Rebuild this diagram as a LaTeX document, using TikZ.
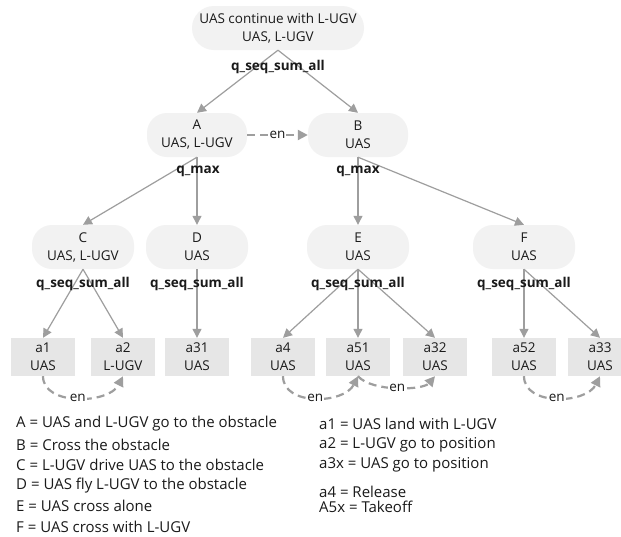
\documentclass[tikz,border=0pt]{standalone}
\usepackage{fontspec}
\setmainfont{Open Sans}
\usetikzlibrary{arrows.meta}
\definecolor{nodegray}{HTML}{F2F2F2}
\definecolor{boxgray}{HTML}{E6E6E6}
\definecolor{linegray}{HTML}{9E9E9E}
\definecolor{txt}{HTML}{1A1A1A}
\newcommand{\fsnode}{\fontsize{13.5}{18}\selectfont}
\newcommand{\fsleg}{\fontsize{15}{17}\selectfont}
\begin{document}
\begin{tikzpicture}[x=1pt,y=-1pt,
  pill/.style={fill=nodegray, rounded corners=20pt, minimum width=100pt, minimum height=44pt, align=center, font=\fsnode, text=txt, inner sep=2pt},
  act/.style={fill=boxgray, minimum width=64pt, minimum height=38pt, align=center, font=\fsnode, text=txt, inner sep=2pt},
  edge/.style={draw=linegray, line width=1.2pt, -{Triangle[length=9pt,width=9pt]}},
  dashedge/.style={draw=linegray, line width=2.2pt, dash pattern=on 8pt off 5pt, -{Triangle[length=10pt,width=10pt]}},
  lbl/.style={font=\bfseries\fsnode, text=txt, inner sep=1pt},
  enlbl/.style={fill=white, font=\fsnode, text=txt, inner sep=1pt},
  leg/.style={anchor=west, font=\fsleg, text=txt, inner sep=0pt, align=left}
]
\useasboundingbox (0,0) rectangle (621,536);
\clip (0,0) rectangle (621,536);
\fill[white] (0,0) rectangle (621,536);

% nodes
\node[pill, minimum width=172pt, rounded corners=22pt] (root) at (278,28) {UAS continue with L-UGV\\UAS, L-UGV};
\node[pill] (A) at (197,135) {A\\UAS, L-UGV};
\node[pill] (B) at (358,135) {B\\UAS};
\node[pill, minimum width=102pt] (C) at (83,247) {C\\UAS, L-UGV};
\node[pill, minimum width=102pt] (D) at (197,247) {D\\UAS};
\node[pill, minimum width=102pt] (E) at (358,247) {E\\UAS};
\node[pill, minimum width=102pt] (F) at (524,247) {F\\UAS};

\node[act] (a1) at (43,357) {a1\\UAS};
\node[act] (a2) at (123,357) {a2\\L-UGV};
\node[act] (a31) at (197,357) {a31\\UAS};
\node[act] (a4) at (283,357) {a4\\UAS};
\node[act] (a51) at (358,357) {a51\\UAS};
\node[act] (a32) at (435,357) {a32\\UAS};
\node[act] (a52) at (524,357) {a52\\UAS};
\node[act] (a33) at (600,357) {a33\\UAS};

% edges
\draw[edge] (root.south) -- (A.north);
\draw[edge] (root.south) -- (B.north);
\draw[edge] (A.south) -- (C.north);
\draw[edge] (A.south) -- (D.north);
\draw[edge] (B.south) -- (E.north);
\draw[edge] (B.south) -- (F.north);
\draw[edge] (C.south) -- (a1.north);
\draw[edge] (C.south) -- (a2.north);
\draw[edge] (D.south) -- (a31.north);
\draw[edge] (E.south) -- (a4.north);
\draw[edge] (E.south) -- (a51.north);
\draw[edge] (E.south) -- (a32.north);
\draw[edge] (F.south) -- (a52.north);
\draw[edge] (F.south) -- (a33.north);

% edge labels
\node[lbl] (l0) at (278,67) {q\_seq\_sum\_all};
\node[lbl] (lA) at (198,171) {q\_max};
\node[lbl] (lB) at (358,171) {q\_max};
\node[lbl] (lC) at (83,284) {q\_seq\_sum\_all};
\node[lbl] (lD) at (197,284) {q\_seq\_sum\_all};
\node[lbl] (lE) at (358,284) {q\_seq\_sum\_all};
\node[lbl] (lF) at (524,284) {q\_seq\_sum\_all};

% dashed enablers
\draw[dashedge] (A.east) -- node[enlbl] {en} (B.west);
\draw[dashedge] (a1.south) .. controls +(0,30) and +(-14,28) .. node[enlbl] {en} (a2.south);
\draw[dashedge] (a4.south) .. controls +(0,30) and +(-14,28) .. node[enlbl] {en} (a51.south);
\draw[dashedge] (a51.south) .. controls +(14,16) and +(-12,14) .. node[enlbl] {en} (a32.south);
\draw[dashedge] (a52.south) .. controls +(0,30) and +(-14,28) .. node[enlbl] {en} (a33.south);

% legend
\node[leg] (gA) at (16,424) {A = UAS and L-UGV go to the obstacle};
\node[leg] (gB) at (16,444.5) {B = Cross the obstacle};
\node[leg] (gC) at (16,465) {C = L-UGV drive UAS to the obstacle};
\node[leg] (gD) at (16,485.5) {D = UAS fly L-UGV to the obstacle};
\node[leg] (gE) at (16,506) {E = UAS cross alone};
\node[leg] (gF) at (16,526.5) {F = UAS cross with L-UGV};
\node[leg] (g1) at (319,424) {a1 = UAS land with L-UGV};
\node[leg] (g2) at (319,444.5) {a2 = L-UGV go to position};
\node[leg] (g3) at (319,465) {a3x = UAS go to position};
\node[leg] (g4) at (319,492) {a4 = Release};
\node[leg] (g5) at (319,507) {A5x = Takeoff};
\end{tikzpicture}
\end{document}
